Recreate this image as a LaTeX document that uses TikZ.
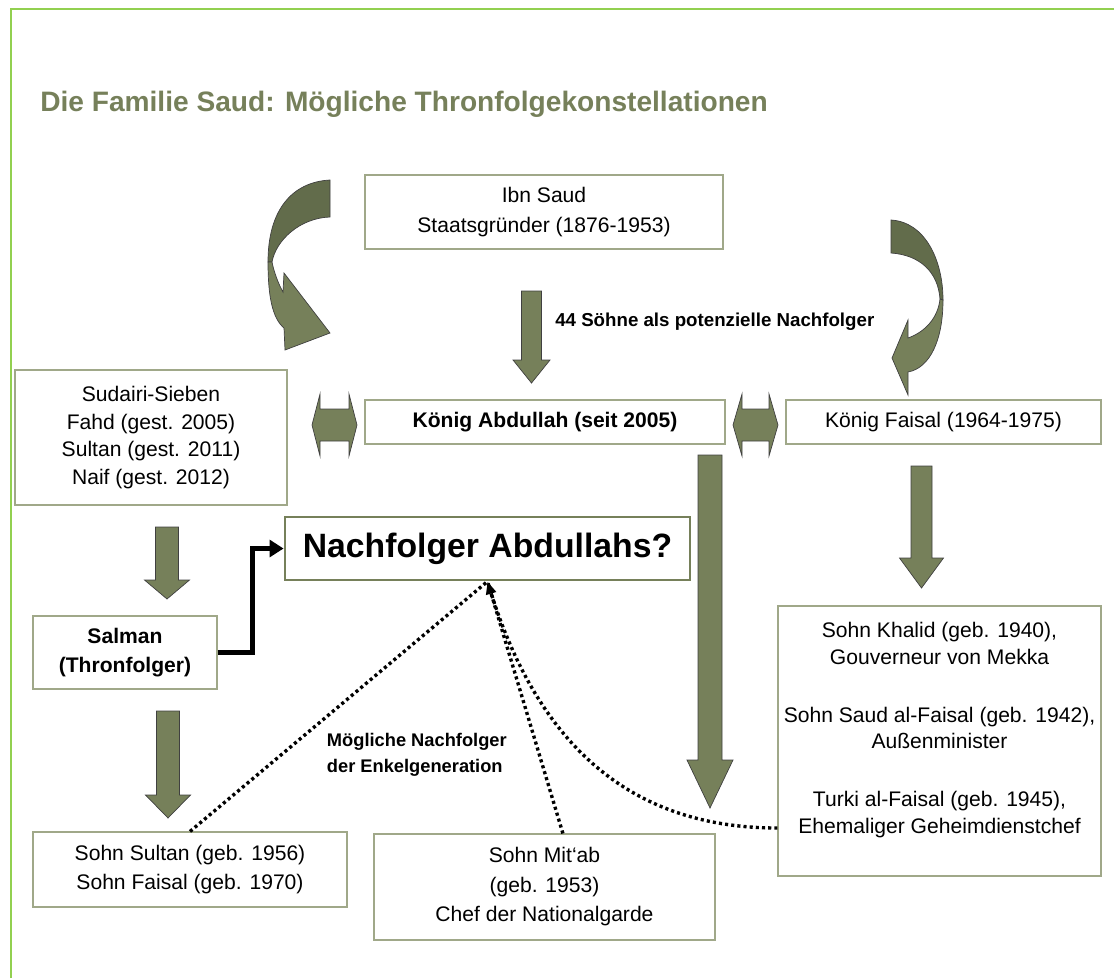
\documentclass[tikz,border=0pt]{standalone}
\usepackage{fontspec}
\setmainfont{Liberation Sans}
\usetikzlibrary{arrows.meta}

\definecolor{framegreen}{HTML}{92D050}
\definecolor{saudgreen}{HTML}{76805A}
\definecolor{sauddark}{HTML}{626C4B}
\definecolor{boxline}{HTML}{A0A889}

\tikzset{
	box/.style={draw=boxline, line width=0.8pt, align=center, inner sep=0pt, font=\fontsize{15}{19.5}\selectfont},
	boldbox/.style={box, font=\fontsize{15}{21}\selectfont\bfseries},
	blockarrow/.style={fill=saudgreen, draw=black!75, line width=0.5pt},
	backarrow/.style={fill=sauddark, draw=black!75, line width=0.5pt},
	dotline/.style={line width=2.4pt, dash pattern=on 2.2pt off 2.2pt},
}

\begin{document}
\begin{tikzpicture}[x=0.25mm, y=-0.25mm]
				\useasboundingbox (0,0) rectangle (1114,978);
				\draw[framegreen, line width=1.8pt] (11,978) -- (11,9) -- (1114,9);
				\node[anchor=base west, inner sep=0pt, text=saudgreen, font=\fontsize{20}{24}\selectfont\bfseries] (title) at (40,111) {Die Familie Saud: Mögliche Thronfolgekonstellationen};

				\node[box, minimum width=89.5mm, minimum height=18.5mm, font=\fontsize{15}{21}\selectfont] (ibn) at (544,212) {Ibn Saud\\Staatsgründer (1876-1953)};
				\node[box, minimum width=68mm, minimum height=33.75mm] (sudairi) at (151,437.5) {Sudairi-Sieben\\Fahd (gest. 2005)\\Sultan (gest. 2011)\\Naif (gest. 2012)};
				\node[boldbox, minimum width=90mm, minimum height=11mm] (abdullah) at (545,422) {König Abdullah (seit 2005)};
				\node[box, minimum width=78.75mm, minimum height=11mm] (faisal) at (943.5,422) {König Faisal (1964-1975)};
				\node[draw=saudgreen, line width=2pt, minimum width=101.25mm, minimum height=15.75mm, font=\fontsize{24}{28}\selectfont\bfseries] (nachfolger) at (487.5,548.5) {Nachfolger Abdullahs?};
				\node[boldbox, minimum width=46mm, minimum height=18.25mm] (salman) at (125,652.5) {Salman\\(Thronfolger)};
				\node[box, minimum width=80.75mm, minimum height=67.5mm, font=\fontsize{15}{19}\selectfont] (faisalsons) at (939.5,741) {Sohn Khalid (geb. 1940),\\Gouverneur von Mekka\\[22pt]Sohn Saud al-Faisal (geb. 1942),\\Außenminister\\[22pt]Turki al-Faisal (geb. 1945),\\Ehemaliger Geheimdienstchef\\[-6pt]\strut};
				\node[box, minimum width=78.5mm, minimum height=18.75mm, font=\fontsize{15}{20}\selectfont] (sultansons) at (190,869.5) {Sohn Sultan (geb. 1956)\\Sohn Faisal (geb. 1970)};
				\node[box, minimum width=85.25mm, minimum height=26.5mm, font=\fontsize{15}{21}\selectfont] (mitab) at (544.5,887) {Sohn Mit‘ab\\(geb. 1953)\\Chef der Nationalgarde};

				\node[anchor=west, inner sep=0pt, font=\fontsize{13.3}{16}\selectfont\bfseries] (soehne) at (555,322) {44 Söhne als potenzielle Nachfolger};
				\node[anchor=west, align=left, font=\fontsize{13}{18.5}\selectfont\bfseries] (enkel) at (322,755) {Mögliche Nachfolger\\der Enkelgeneration};

				\draw[blockarrow] (521.5,291) -- (541.5,291) -- (541.5,360) -- (550,360) -- (531.5,383) -- (513,360) -- (521.5,360) -- cycle;
				\draw[blockarrow] (155.5,527) -- (178.5,527) -- (178.5,580) -- (189.5,580) -- (167,599) -- (144.5,580) -- (155.5,580) -- cycle;
				\draw[blockarrow] (156.5,711) -- (179.5,711) -- (179.5,795) -- (190.5,795) -- (168,818) -- (145.5,795) -- (156.5,795) -- cycle;
				\draw[blockarrow] (698,455) -- (722,455) -- (722,760) -- (733,760) -- (710,808) -- (687,760) -- (698,760) -- cycle;
				\draw[blockarrow] (911,466) -- (932,466) -- (932,558) -- (943.5,558) -- (921.5,588) -- (899.5,558) -- (911,558) -- cycle;

				\draw[blockarrow] (312,425) -- (320,394) -- (320,409) -- (349,409) -- (349,394) -- (357,425) -- (349,456) -- (349,441) -- (320,441) -- (320,456) -- cycle;
				\draw[blockarrow] (733,425) -- (742,394) -- (742,409) -- (769,409) -- (769,394) -- (778,425) -- (769,456) -- (769,441) -- (742,441) -- (742,456) -- cycle;

				\draw[backarrow] (330,180) .. controls (292,182) and (268,210) .. (268,262) -- (272,262) .. controls (276,240) and (300,218) .. (330,217) -- cycle;
				\draw[blockarrow] (268,262) .. controls (268,295) and (272,318) .. (284,328) -- (285,350) -- (330,333) -- (284,273) -- (283,292) .. controls (278,283) and (274,272) .. (272,262) -- cycle;
				\draw[backarrow] (891,220) .. controls (925,222) and (943,260) .. (943,300) -- (940,299) .. controls (938,272) and (920,255) .. (891,253) -- cycle;
				\draw[blockarrow] (943,300) .. controls (943,340) and (930,368) .. (908,372) -- (908,395) -- (892,358) -- (908,320) -- (908,338) .. controls (925,332) and (938,318) .. (940,299) -- cycle;

				\draw[line width=4pt, -{Triangle[length=10pt,width=12pt]}] (salman.east) -- ++(35,0) |- (nachfolger.west);
				\draw[dotline] (sultansons.north) -- (nachfolger.south);
				\draw[dotline] ([yshift=-21.75mm]faisalsons.west) .. controls +(-170,0) and +(40,135) .. (nachfolger.south);
				\draw[dotline, -{Triangle[length=9pt,width=7pt]}] ([xshift=4.6mm]mitab.north) -- (nachfolger.south);
			\end{tikzpicture}
\end{document}
